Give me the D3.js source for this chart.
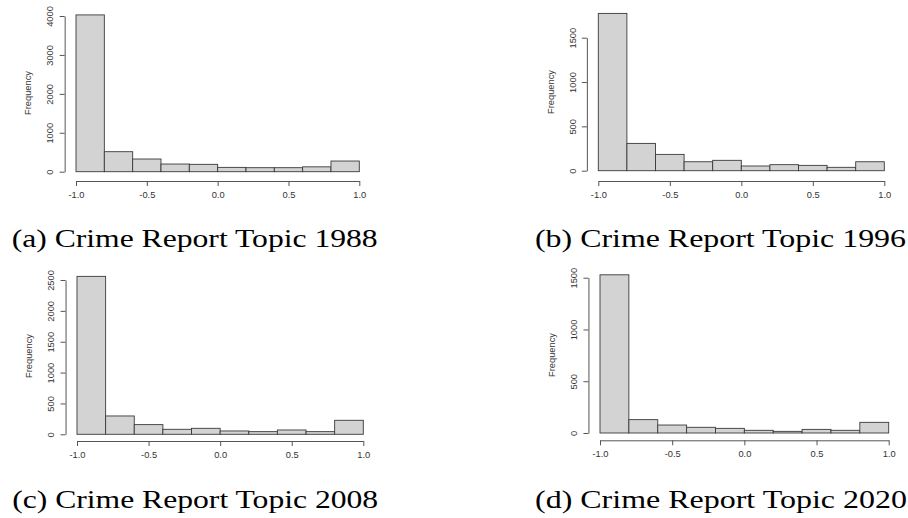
<!DOCTYPE html>
<html>
<head>
<meta charset="utf-8">
<script src="https://cdn.jsdelivr.net/npm/d3@7"></script>
<style>
  html, body { margin: 0; padding: 0; background: #fff; }
  svg { display: block; }
</style>
</head>
<body>
<svg id="chart" width="908" height="518"></svg>
<script>
// ---- data ----
const binEdges = [-1.0, -0.8, -0.6, -0.4, -0.2, 0.0, 0.2, 0.4, 0.6, 0.8, 1.0];
const xTicks = [-1.0, -0.5, 0.0, 0.5, 1.0];
const xTickLabels = ["-1.0", "-0.5", "0.0", "0.5", "1.0"];

const freq1988 = [4028, 514, 326, 197, 189, 111, 103, 103, 125, 274];
const freq1996 = [1774, 308, 184, 101, 117, 53, 68, 60, 38, 101];
const freq2008 = [2559, 297, 157, 81, 97, 54, 43, 70, 43, 227];
const freq2020 = [1528, 129, 77, 55, 45, 26, 16, 35, 26, 103];

const yTicks1988 = [0, 1000, 2000, 3000, 4000];
const yTicks1996 = [0, 500, 1000, 1500];
const yTicks2008 = [0, 500, 1000, 1500, 2000, 2500];
const yTicks2020 = [0, 500, 1000, 1500];

const captions = ["(a) Crime Report Topic 1988", "(b) Crime Report Topic 1996",
                  "(c) Crime Report Topic 2008", "(d) Crime Report Topic 2020"];
const yLabel = "Frequency";

// ---- layout (pixel geometry per panel) ----
const panels = [
  { values: freq1988, yTicks: yTicks1988, caption: captions[0],
    x0: 76, x1: 359.3, y0: 171.7, yTop: 16, xAxisY: 181, labelY: 93,
    capX: 11.7, capW: 366, capY: 246.5 },
  { values: freq1996, yTicks: yTicks1996, caption: captions[1],
    x0: 598.3, x1: 884.3, y0: 170.7, yTop: 37.7, xAxisY: 181, labelY: 92,
    capX: 535, capW: 371, capY: 246.5 },
  { values: freq2008, yTicks: yTicks2008, caption: captions[2],
    x0: 77, x1: 363.3, y0: 434.3, yTop: 280, xAxisY: 441, labelY: 356,
    capX: 12.2, capW: 366, capY: 507.5 },
  { values: freq2020, yTicks: yTicks2020, caption: captions[3],
    x0: 600, x1: 888.7, y0: 433, yTop: 277.7, xAxisY: 440.3, labelY: 355,
    capX: 535, capW: 372, capY: 507.5 }
];

const svg = d3.select("#chart");
const axisColor = "#555";
const sansFont = "'Liberation Sans', Arial, sans-serif";

panels.forEach(p => {
  const g = svg.append("g");
  const x = d3.scaleLinear().domain([-1, 1]).range([p.x0, p.x1]);
  const topTick = p.yTicks[p.yTicks.length - 1];
  const y = d3.scaleLinear().domain([0, topTick]).range([p.y0, p.yTop]);
  const yAxisX = p.x0 - (p.x1 - p.x0) * 0.04;

  // bars
  g.selectAll("rect.bar")
    .data(p.values)
    .join("rect")
    .attr("class", "bar")
    .attr("x", (d, i) => x(binEdges[i]))
    .attr("width", (d, i) => x(binEdges[i + 1]) - x(binEdges[i]))
    .attr("y", d => y(d))
    .attr("height", d => y(0) - y(d))
    .attr("fill", "#d3d3d3")
    .attr("stroke", "#3a3a3a")
    .attr("stroke-width", 0.9);

  // x axis
  const xAxis = d3.axisBottom(x)
    .tickValues(xTicks)
    .tickFormat((d, i) => xTickLabels[i])
    .tickSize(5)
    .tickSizeOuter(0)
    .tickPadding(5);
  const gx = g.append("g")
    .attr("transform", `translate(0,${p.xAxisY})`)
    .call(xAxis);
  gx.select(".domain").attr("stroke", axisColor);
  gx.selectAll(".tick line").attr("stroke", axisColor);
  gx.selectAll(".tick text")
    .attr("fill", "#333")
    .style("font-family", sansFont)
    .style("font-size", "9.3px");

  // y axis
  const yAxis = d3.axisLeft(y)
    .tickValues(p.yTicks)
    .tickFormat(d3.format("d"))
    .tickSize(5)
    .tickSizeOuter(0);
  const gy = g.append("g")
    .attr("transform", `translate(${yAxisX},0)`)
    .call(yAxis);
  gy.select(".domain").attr("stroke", axisColor);
  gy.selectAll(".tick line").attr("stroke", axisColor);
  gy.selectAll(".tick text")
    .attr("x", null).attr("dy", null)
    .attr("text-anchor", "middle")
    .attr("transform", "translate(-14.5,0) rotate(-90)")
    .attr("dy", "0.35em")
    .attr("fill", "#333")
    .style("font-family", sansFont)
    .style("font-size", "9.3px");

  // y label
  g.append("text")
    .attr("transform", `translate(${yAxisX - 36.5},${p.labelY}) rotate(-90)`)
    .attr("text-anchor", "middle")
    .attr("dy", "0.35em")
    .attr("fill", "#333")
    .style("font-family", sansFont)
    .style("font-size", "9.3px")
    .text(yLabel);

  // caption
  g.append("text")
    .attr("x", p.capX)
    .attr("y", p.capY)
    .attr("textLength", p.capW)
    .attr("lengthAdjust", "spacingAndGlyphs")
    .attr("fill", "#000")
    .style("font-family", "'Liberation Serif', 'Times New Roman', serif")
    .style("font-weight", "normal")
    .style("font-size", "25.5px")
    .text(p.caption);
});
</script>
</body>
</html>
